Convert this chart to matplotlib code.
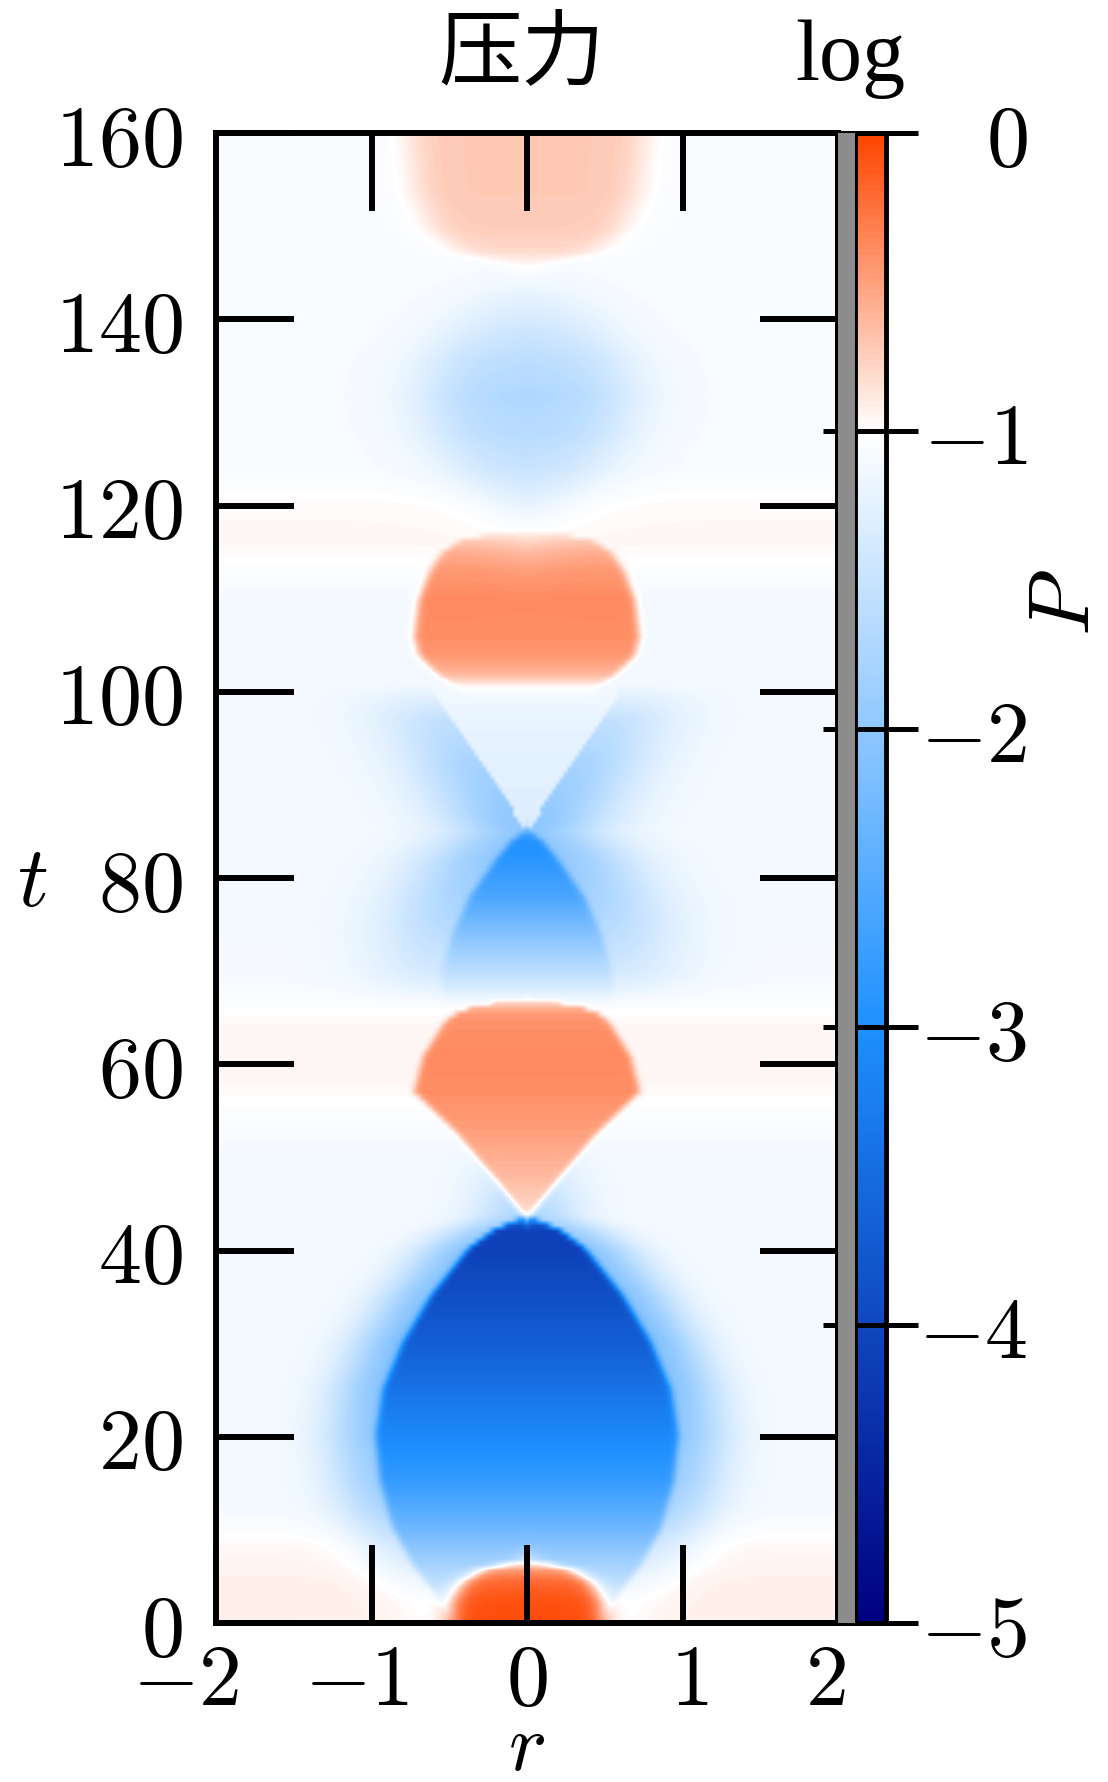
import numpy as np
import matplotlib
matplotlib.use("Agg")
import matplotlib.pyplot as plt
from matplotlib.colors import LinearSegmentedColormap
from matplotlib.patches import Rectangle
from matplotlib.transforms import ScaledTranslation

plt.rcParams["mathtext.fontset"] = "cm"
plt.rcParams["font.family"] = ["DejaVu Serif"]

# ---- axes, ticks ----
r_ticks = [-2, -1, 0, 1, 2]
t_ticks = [0, 20, 40, 60, 80, 100, 120, 140, 160]
cbar_ticks = [-5, -4, -3, -2, -1, 0]
vmin, vmax = -5.0, 0.0

# ---- background level of log P along t ----
band_t = [0, 4, 8, 12, 20, 50, 54, 58, 64, 69, 75, 110, 113, 116, 120, 124, 160]
band_level = [-0.93, -0.93, -0.97, -1.10, -1.10, -1.10, -1.04, -0.97, -0.97,
              -1.08, -1.10, -1.10, -1.03, -0.97, -0.98, -1.06, -1.06]

# ---- high-pressure core at t = 0 ----
core_t = [0, 2, 4, 5.5, 6.5]
core_w = [0.50, 0.49, 0.43, 0.30, 0.05]
core_v = [-0.05, -0.08, -0.18, -0.35, -0.60]

# ---- first rarefaction lobe ----
rare1_t = [0, 3, 6, 10, 15, 20, 25, 30, 35, 40, 42, 43.5]
rare1_w = [0.50, 0.60, 0.74, 0.87, 0.95, 0.98, 0.93, 0.80, 0.62, 0.38, 0.22, 0.02]
rare1_v = [-1.25, -1.45, -1.80, -2.30, -2.80, -3.10, -3.40, -3.70, -3.90, -4.10, -4.10, -3.60]
halo1_t = [2, 8, 14, 20, 30, 40, 44, 48, 52]
halo1_amp = [-0.10, -0.40, -0.70, -0.85, -1.00, -0.90, -0.60, -0.30, 0.00]

# ---- first compression lobe ----
comp1_t = [43, 47.4, 52.3, 57, 60.8, 64.5, 65.5, 66.3, 67]
comp1_w = [0.00, 0.20, 0.44, 0.73, 0.67, 0.53, 0.45, 0.32, 0.02]
comp1_v = [-0.85, -0.65, -0.50, -0.40, -0.38, -0.42, -0.48, -0.60, -0.80]

# ---- second rarefaction lobe ----
rare2_t = [67.5, 70, 74, 78, 82, 84, 85.3]
rare2_w = [0.55, 0.55, 0.48, 0.37, 0.20, 0.10, 0.00]
rare2_v = [-1.30, -1.60, -2.10, -2.60, -2.90, -3.00, -2.80]
halo2_t = [66, 70, 74, 78, 82, 85, 90, 95, 100]
halo2_w = [0.55, 0.55, 0.48, 0.37, 0.20, 0.00, 0.20, 0.40, 0.60]
halo2_amp_t = [66, 70, 76, 82, 86, 92, 97, 101]
halo2_amp = [0.00, -0.30, -0.60, -0.85, -0.90, -0.70, -0.45, 0.00]

# ---- second compression lobe ----
comp2_t = [100.5, 102, 104, 106, 110, 113, 115, 116.5, 117.5]
comp2_w = [0.45, 0.58, 0.70, 0.73, 0.70, 0.63, 0.55, 0.42, 0.05]
comp2_v = [-0.90, -0.60, -0.45, -0.40, -0.38, -0.45, -0.55, -0.70, -0.85]

# ---- third (diffuse) rarefaction lobe ----
rare3_t = [117, 120, 124, 128, 132, 136, 140, 144, 147]
rare3_w = [0.05, 0.22, 0.45, 0.58, 0.62, 0.58, 0.45, 0.28, 0.05]
rare3_v = [-1.12, -1.30, -1.50, -1.65, -1.72, -1.60, -1.40, -1.20, -1.10]

# ---- third compression cap ----
comp3_t = [146, 147.5, 150, 154, 160]
comp3_w = [0.10, 0.45, 0.62, 0.72, 0.76]
comp3_v = [-0.85, -0.78, -0.74, -0.72, -0.72]

# ---- build the field on the simulation grid ----
r_grid = np.linspace(-2.0, 2.0, 161)
t_grid = np.linspace(0.0, 160.0, 268)
R, T = np.meshgrid(r_grid, t_grid)

field = np.interp(T, band_t, band_level)

w1 = np.interp(T, rare1_t, rare1_w)
d1 = np.clip(np.abs(R) - w1, 0, None)
field += np.interp(T, halo1_t, halo1_amp) * np.exp(-(d1 / 0.32) ** 2)

w2 = np.interp(T, halo2_t, halo2_w)
d2 = np.abs(R) - w2
amp2 = np.interp(T, halo2_amp_t, halo2_amp)
inside_v = (d2 < 0) & (T > rare2_t[-1])
field += amp2 * np.where(inside_v, 0.22, np.exp(-(np.clip(d2, 0, None) / 0.48) ** 2))


def sigmoid(x):
    return 0.5 * (1.0 + np.tanh(0.5 * x))


def paint(f, ts, ws, vs, edge, tedge, t_lo=None, t_hi=None):
    t_lo = ts[0] if t_lo is None else t_lo
    t_hi = ts[-1] if t_hi is None else t_hi
    w = np.interp(T, ts, ws)
    v = np.interp(T, ts, vs)
    a = sigmoid((w - np.abs(R)) / edge) * sigmoid((T - t_lo) / tedge) * sigmoid((t_hi - T) / tedge)
    return f * (1 - a) + v * a


field = paint(field, rare1_t, rare1_w, rare1_v, 0.012, 0.3, t_lo=-5)
field = paint(field, core_t, core_w, core_v, 0.04, 0.5, t_lo=-5)
field = paint(field, comp1_t, comp1_w, comp1_v, 0.012, 0.3)
field = paint(field, rare2_t, rare2_w, rare2_v, 0.012, 0.4)
field = paint(field, comp2_t, comp2_w, comp2_v, 0.015, 0.4)
field = paint(field, rare3_t, rare3_w, rare3_v, 0.15, 1.8)
field = paint(field, comp3_t, comp3_w, comp3_v, 0.07, 0.8, t_hi=170)

cmap = LinearSegmentedColormap.from_list(
    "pressure", [(0.0, "#000080"), (0.4, "#1e90ff"), (0.8, "#ffffff"), (1.0, "#ff4500")])

# ---- figure ----
W, H = 1108, 1782
FS = 62
fig = plt.figure(figsize=(W / 100, H / 100), dpi=100)

ax_l, ax_r, ax_t, ax_b = 216, 838, 133, 1623
ax = fig.add_axes([ax_l / W, 1 - ax_b / H, (ax_r - ax_l) / W, (ax_b - ax_t) / H])
im = ax.imshow(field, origin="lower", extent=[-2, 2, 0, 160], aspect="auto",
               cmap=cmap, vmin=vmin, vmax=vmax, interpolation="bilinear")
ax.set_xlim(-2, 2)
ax.set_ylim(0, 160)
ax.set_xticks(r_ticks, [rf"${v}$" for v in r_ticks])
ax.set_yticks(t_ticks, [rf"${v}$" for v in t_ticks])
ax.tick_params(axis="both", direction="in", length=56, width=4.3, labelsize=FS,
               top=True, right=True)
ax.tick_params(axis="y", pad=24)
ax.tick_params(axis="x", pad=12)
for s in ax.spines.values():
    s.set_linewidth(4.3)

# horizontal nudges (pixels) of the r tick labels
r_label_dx = [-30, -15, 0, 7, -13]
for lab, dx in zip(ax.get_xticklabels(), r_label_dx):
    lab.set_transform(lab.get_transform() + ScaledTranslation(dx / 100, 0, fig.dpi_scale_trans))

ax.set_xlabel(r"$r$", fontsize=58, ha="center", va="center")
ax.set_ylabel(r"$t$", fontsize=FS, rotation=0, ha="center", va="center")
ax.xaxis.set_label_coords(0.5, -0.084)
ax.yaxis.set_label_coords(-0.296, 0.497)

# gray gap between plot and colour bar
fig.add_artist(Rectangle((ax_r / W, 1 - ax_b / H), (855 - ax_r) / W, (ax_b - ax_t) / H,
                         transform=fig.transFigure, facecolor="#8c8c8c",
                         edgecolor="none", zorder=0.5))

cax = fig.add_axes([855 / W, 1 - ax_b / H, 31 / W, (ax_b - ax_t) / H])
cbar = fig.colorbar(im, cax=cax, ticks=cbar_ticks)
cbar.ax.set_yticklabels([rf"${v}$" for v in cbar_ticks])
cbar.outline.set_linewidth(3.5)
cbar.ax.tick_params(direction="inout", length=46, width=3.6, labelsize=FS,
                    left=True, right=True, labelleft=False, labelright=True, pad=79)
plt.setp(cbar.ax.get_yticklabels(), ha="right")
cbar.ax.set_ylabel(r"$P$", fontsize=FS, rotation=90, ha="center", va="center")
cbar.ax.yaxis.set_label_coords(6.8, 0.685)

fig.text(522 / W, 1 - 54 / H, "压力", fontsize=60, ha="center", va="center",
         family=["Noto Sans CJK SC", "DejaVu Sans"])
fig.text(850 / W, 1 - 80 / H, "log", fontsize=62, ha="center", va="baseline",
         family=["Liberation Serif", "DejaVu Serif"])

fig.savefig("out.png", dpi=100)
